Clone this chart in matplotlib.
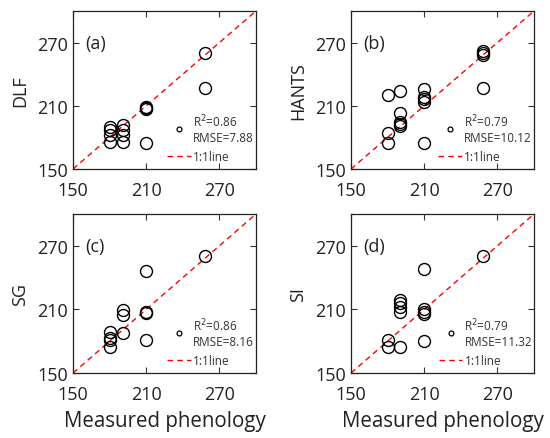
import matplotlib
matplotlib.use("Agg")
import matplotlib.pyplot as plt
from matplotlib.lines import Line2D

plt.rcParams['font.family'] = ['Open Sans', 'DejaVu Sans']

# measured phenology (x) and estimated phenology (y) for each method
dlf_x = [258, 258, 210, 210, 210, 210, 180, 180, 180, 180, 191, 191, 191, 191]
dlf_y = [260, 227, 209, 207, 175, 208, 190, 187, 182, 176, 192, 187, 182, 176]

hants_x = [258, 258, 258, 258, 210, 210, 210, 210, 210, 180, 180, 180, 190, 190, 190, 190, 190]
hants_y = [262, 260, 258, 227, 226, 218, 216, 214, 175, 220, 184, 175, 224, 203, 195, 193, 191]

sg_x = [258, 210, 210, 210, 210, 191, 191, 191, 180, 180, 180, 180]
sg_y = [260, 246, 208, 207, 181, 209, 205, 188, 189, 183, 181, 175]

si_x = [258, 210, 210, 210, 210, 210, 190, 190, 190, 190, 190, 180, 180]
si_y = [260, 248, 210, 208, 206, 180, 219, 216, 212, 208, 175, 181, 175]

panels = ["(a)", "(b)", "(c)", "(d)"]
names = ["DLF", "HANTS", "SG", "SI"]
r2 = ["0.86", "0.79", "0.86", "0.79"]
rmse = ["7.88", "10.12", "8.16", "11.32"]
xs = [dlf_x, hants_x, sg_x, si_x]
ys = [dlf_y, hants_y, sg_y, si_y]
ticks = [150, 210, 270]

fig = plt.figure(figsize=(5.5, 4.39), dpi=100)
W, H = 550.0, 439.0
boxes = [(73, 12, 183, 158), (351, 12, 183, 158),
         (73, 215, 183, 159), (351, 215, 183, 159)]
leg_x = [0.514, 0.475, 0.514, 0.48]

for i in range(4):
    l, t, w, h = boxes[i]
    ax = fig.add_axes([l / W, 1 - (t + h) / H, w / W, h / H])
    ax.plot([150, 300], [150, 300], color='red', linestyle='--', linewidth=1, dashes=(4, 3))
    ax.plot(xs[i], ys[i], linestyle='none', marker='o', markersize=8.6,
            markerfacecolor='none', markeredgecolor='black', markeredgewidth=1.0)
    ax.set_xlim(150, 300)
    ax.set_ylim(150, 300)
    ax.set_xticks(ticks)
    ax.set_yticks(ticks)
    ax.tick_params(direction='in', length=4, width=0.8, labelsize=13, color='#333333',
                   top=True, right=True, labelcolor='#222222')
    ax.tick_params(axis='x', pad=8.5)
    ax.tick_params(axis='y', pad=3.5)
    for s in ax.spines.values():
        s.set_linewidth(0.9)
        s.set_color('#222222')
    ax.set_ylabel(names[i], fontsize=13, color='#222222', labelpad=6)
    if i >= 2:
        ax.set_xlabel("Measured phenology", fontsize=14.8, color='#222222', labelpad=5)
    ax.text(160, 270, panels[i], fontsize=13, va='center', ha='left', color='#222222')
    handles = [Line2D([], [], linestyle='none', marker='o', markersize=3.5,
                      markerfacecolor='none', markeredgecolor='black', markeredgewidth=0.9),
               Line2D([], [], color='red', linestyle='--', linewidth=1, dashes=(4, 3))]
    labels = ["R$^2$=" + r2[i] + "\nRMSE=" + rmse[i], "1:1line"]
    ax.legend(handles, labels, loc='lower left', bbox_to_anchor=(leg_x[i], 0.04),
              frameon=False, fontsize=8.5, handlelength=2.0, handletextpad=0.17,
              labelspacing=0.45, borderpad=0, borderaxespad=0, labelcolor='#333333')

fig.savefig("out.png", dpi=100)
